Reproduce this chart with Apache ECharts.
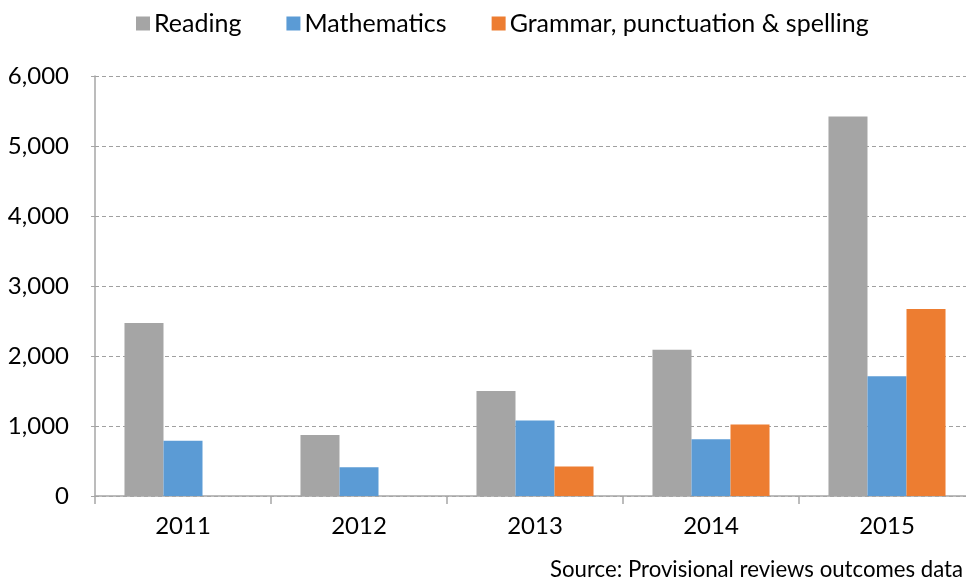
<!DOCTYPE html>
<html>
<head>
<meta charset="utf-8">
<script src="https://cdn.jsdelivr.net/npm/echarts@6/dist/echarts.min.js"></script>
<style>html,body{margin:0;padding:0;background:#fff}#c{width:966px;height:581px}</style>
</head>
<body>
<div id="c"></div>
<script>
const categories = ['2011', '2012', '2013', '2014', '2015'];
const reading = [2470, 870, 1500, 2090, 5420];
const mathematics = [790, 410, 1080, 810, 1710];
const grammar = [null, null, 420, 1020, 2670];
const seriesNames = ['Reading', 'Mathematics', 'Grammar, punctuation & spelling'];
const sourceText = 'Source: Provisional reviews outcomes data';

const FONT = 'Lato';
const chart = echarts.init(document.getElementById('c'), null, {renderer: 'canvas'});
chart.setOption({
  animation: false,
  color: ['#A5A5A5', '#5B9BD5', '#ED7D31'],
  textStyle: {fontFamily: FONT},
  legend: {
    top: 6, left: 131,
    itemWidth: 14, itemHeight: 14, itemGap: 45,
    icon: 'rect',
    textStyle: {fontFamily: FONT, fontSize: 25, color: '#000', padding: [0, 0, 0, -1]},
    data: seriesNames
  },
  grid: {left: 95, width: 880, top: 76, bottom: 85, outerBoundsMode: 'none', containLabel: false},
  xAxis: {
    type: 'category',
    data: categories,
    axisLine: {lineStyle: {color: '#a6a6a6', width: 1.5}},
    axisTick: {show: true, length: 8, lineStyle: {color: '#a6a6a6', width: 1.5}},
    axisLabel: {fontFamily: FONT, fontSize: 24, color: '#000', margin: 18}
  },
  yAxis: {
    type: 'value',
    min: 0, max: 6000, interval: 1000,
    axisLine: {show: true, lineStyle: {color: '#a6a6a6', width: 1.5}},
    axisTick: {show: true, length: 4, lineStyle: {color: '#a6a6a6'}},
    axisLabel: {
      fontFamily: FONT, fontSize: 24, color: '#000', margin: 26,
      formatter: v => v.toLocaleString('en-US')
    },
    splitLine: {lineStyle: {color: '#a0a0a0', type: [4, 3], width: 1}}
  },
  series: [
    {name: seriesNames[0], type: 'bar', data: reading, barGap: '0%', barCategoryGap: '33.5%'},
    {name: seriesNames[1], type: 'bar', data: mathematics},
    {name: seriesNames[2], type: 'bar', data: grammar}
  ],
  graphic: [{
    type: 'text', right: 3, top: 559,
    style: {text: sourceText, fontFamily: FONT, fontSize: 22.2, fill: '#000'}
  }]
});
</script>
</body>
</html>
